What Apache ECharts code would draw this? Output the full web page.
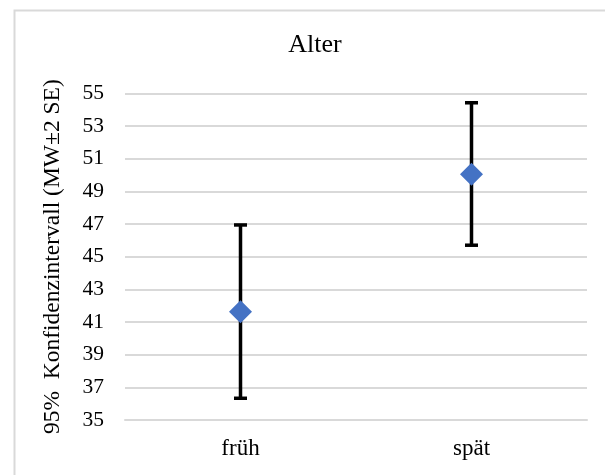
<!DOCTYPE html>
<html>
<head>
<meta charset="utf-8">
<script src="https://cdn.jsdelivr.net/npm/echarts@6/dist/echarts.min.js"></script>
<style>
  html, body { margin: 0; padding: 0; background: #ffffff; }
  #chart { width: 605px; height: 475px; }
</style>
</head>
<body>
<div id="chart"></div>
<script>
const categories = ['früh', 'spät'];
const means = [41.63, 50.05];
const lower = [36.33, 45.70];
const upper = [46.94, 54.42];
const yTicks = [35, 37, 39, 41, 43, 45, 47, 49, 51, 53, 55];
const titleText = 'Alter';
const yName = '95%  Konfidenzintervall (MW±2 SE)';

const chart = echarts.init(document.getElementById('chart'), null, { renderer: 'canvas' });
const serif = '"Liberation Serif", "Times New Roman", serif';

const errData = categories.map((c, i) => [i, lower[i], upper[i]]);

chart.setOption({
  backgroundColor: '#ffffff',
  animation: false,
  graphic: [{
    type: 'rect',
    left: 12, top: 8,
    shape: { width: 700, height: 600 },
    style: { fill: 'none', stroke: '#d9d9d9', lineWidth: 2 },
    silent: true
  }, {
    type: 'text',
    x: 315, y: 45,
    style: {
      text: titleText,
      fontFamily: serif, fontSize: 26, fill: '#000000',
      textAlign: 'center', textVerticalAlign: 'middle'
    },
    silent: true
  }],
  grid: { left: 125, right: 18, top: 93.3, bottom: 55, containLabel: false },
  xAxis: {
    type: 'category',
    data: categories,
    boundaryGap: true,
    axisLine: { show: true, lineStyle: { color: '#d9d9d9', width: 2 } },
    axisTick: { show: false },
    axisLabel: { fontFamily: serif, fontSize: 23, color: '#000000', margin: 17 }
  },
  yAxis: {
    type: 'value',
    min: yTicks[0],
    max: yTicks[yTicks.length - 1],
    interval: 2,
    name: yName,
    nameLocation: 'middle',
    nameGap: 60,
    nameRotate: 90,
    nameTextStyle: { fontFamily: serif, fontSize: 23.5, color: '#000000' },
    axisLine: { show: false },
    axisTick: { show: false },
    splitLine: { lineStyle: { color: '#d9d9d9', width: 2 } },
    axisLabel: { fontFamily: serif, fontSize: 21.5, color: '#000000', margin: 21 }
  },
  series: [
    {
      type: 'custom',
      data: errData,
      z: 2,
      renderItem: function (params, api) {
        const x = api.value(0);
        const lo = api.coord([x, api.value(1)]);
        const hi = api.coord([x, api.value(2)]);
        const hw = 6.5;
        const style = { stroke: '#000000', lineWidth: 3.5, fill: 'none' };
        return {
          type: 'group',
          children: [
            { type: 'line', shape: { x1: lo[0], y1: lo[1], x2: hi[0], y2: hi[1] }, style: style },
            { type: 'line', shape: { x1: lo[0] - hw, y1: lo[1], x2: lo[0] + hw, y2: lo[1] }, style: style },
            { type: 'line', shape: { x1: hi[0] - hw, y1: hi[1], x2: hi[0] + hw, y2: hi[1] }, style: style }
          ]
        };
      }
    },
    {
      type: 'scatter',
      data: means,
      symbol: 'diamond',
      symbolSize: [23, 23],
      z: 3,
      itemStyle: { color: '#4472C4', opacity: 1 }
    }
  ]
});
</script>
</body>
</html>
